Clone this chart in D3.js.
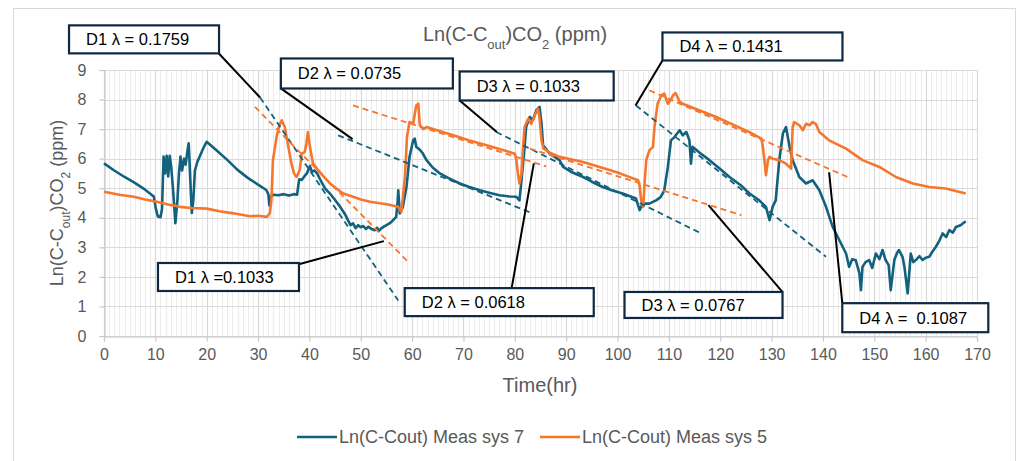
<!DOCTYPE html>
<html><head><meta charset="utf-8">
<script src="https://cdn.jsdelivr.net/npm/d3@7/dist/d3.min.js"></script>
<style>
html,body{margin:0;padding:0;background:#fff;}
svg{display:block;font-family:"Liberation Sans",Arial,sans-serif;}
</style></head>
<body>
<svg id="chart" width="1018" height="461"></svg>
<script>
// ---------- DATA ----------
const xTicks = [0,10,20,30,40,50,60,70,80,90,100,110,120,130,140,150,160,170];
const yTicks = [0,1,2,3,4,5,6,7,8,9];
const seriesNames = ["Ln(C-Cout) Meas sys 7", "Ln(C-Cout) Meas sys 5"];

const sys7Time = [0,2,4,6,8,9.7,10.1,10.5,11,11.3,11.6,11.9,12.2,12.5,12.8,13.1,13.4,13.9,14.3,14.6,14.9,15.2,15.6,15.9,16.2,16.5,16.8,17.1,17.4,17.7,18.2,18.7,19.2,19.7,20,
22,24,26,28,30,31.6,32,32.2,32.5,33,34,35,36,37,37.6,38,38.5,39,39.5,40.1,40.5,41,41.5,42,43,44,45,46,47,47.5,48,48.5,49,49.5,50,50.5,51,51.5,52,52.7,53.2,53.5,54,54.5,55,55.6,56.2,56.9,57.2,57.3,57.6,58.2,58.9,59.5,60.2,60.5,60.8,61.2,61.5,62,62.8,64,65.4,67,69.3,71,73.2,75,77,79,80.3,80.9,81.3,81.9,82.2,82.9,83.5,84.2,84.8,85.2,85.5,86.2,86.8,88.7,89.4,91,93.3,95,97.1,99,101,103.6,104.3,104.9,106.2,107.5,108.4,109.1,109.8,110.4,111.1,111.6,112.1,112.7,113.4,114,114.3,114.6,116,117.9,120,121.8,124,125.7,127.6,128.9,129.6,130.2,130.8,131.5,132.2,132.8,133.5,134.1,135.4,136.7,138,139.3,140.6,141.9,143.2,144.5,145.1,145.7,146.4,147.1,147.4,147.7,148.3,149,149.6,150.3,151,151.6,152.2,152.8,153.2,153.9,154.4,154.8,155.5,155.9,156.5,157.1,157.6,158.1,158.8,159.4,160,160.7,161.3,162,162.6,163.3,164,164.6,165.3,165.9,166.8,167.8];
const sys7Value = [5.84,5.6,5.38,5.18,4.95,4.72,4.3,4.04,4.02,4.3,6.07,5.5,6.1,5.4,6.1,5.7,5.06,3.82,4.6,5.5,6.07,5.6,6.0,5.8,6.2,6.52,5.3,4.16,4.6,5.6,5.9,6.1,6.3,6.48,6.57,
6.27,5.96,5.62,5.35,5.12,4.94,4.8,4.42,4.72,4.78,4.76,4.8,4.75,4.8,4.78,5.3,5.28,5.4,5.5,5.75,5.55,5.6,5.5,5.33,5.0,4.82,4.6,4.37,4.1,3.92,3.75,3.81,3.65,3.75,3.68,3.72,3.62,3.7,3.63,3.58,3.66,3.55,3.64,3.7,3.75,3.81,3.9,4.03,4.6,4.93,4.15,4.37,5.04,6.06,6.62,6.68,6.4,6.35,6.3,6.2,5.95,5.7,5.5,5.35,5.16,5.05,4.93,4.85,4.76,4.72,4.71,4.59,5.27,6.4,7.07,7.41,7.3,7.64,7.75,7.19,6.45,6.3,6.17,5.95,5.72,5.55,5.38,5.22,5.04,4.92,4.82,4.65,4.26,4.48,4.48,4.59,4.7,4.93,5.72,6.62,6.73,6.85,6.96,6.79,6.9,6.62,5.83,6.4,6.2,5.95,5.65,5.38,5.1,4.82,4.59,4.37,3.92,4.37,4.59,5.95,6.85,7.07,6.4,5.95,5.38,5.16,5.27,4.93,4.37,3.69,3.24,2.79,2.34,2.6,2.56,2.12,1.55,2.34,2.5,2.57,2.3,2.79,2.6,2.91,2.57,2.4,1.55,2.57,2.8,2.91,2.68,2.3,1.44,2.79,2.5,2.57,2.7,2.57,2.65,2.68,2.85,3.02,3.2,3.47,3.35,3.58,3.5,3.69,3.75,3.88];

const sys5Time = [0,3,5.8,8,10.3,12.5,14.8,17,20,22.5,25.2,28.4,30,31.7,32.3,32.6,32.9,33.6,34.1,34.6,35.2,35.9,36.5,37,37.5,38.1,38.5,39.1,39.4,39.7,40.1,40.7,41.7,43,44,45.3,46.6,48.5,50,51.8,55,57.3,57.9,58.6,59,59.5,60.2,60.8,61.2,61.5,62.2,62.8,65,68,71,74.5,77,80,80.3,80.6,80.9,81.3,81.6,81.9,82.6,83.2,83.9,84.5,84.8,85.2,85.6,86.8,88.7,93.3,96.5,99.7,102,104,104.3,104.6,105,105.3,105.6,106.2,106.9,107.2,107.8,108.5,109.1,109.8,110.4,110.8,111.3,112.1,112.7,116,119.2,122.5,125.7,128,128.3,128.6,128.9,129.3,129.6,130.2,131.5,132.8,133.5,133.8,134.1,134.4,135.4,136.1,136.7,137.4,138,138.6,139.3,141.2,144.5,147.7,151,154.2,157.5,160.7,163.9,167.8];
const sys5Value = [4.88,4.78,4.71,4.62,4.54,4.45,4.37,4.33,4.31,4.22,4.15,4.05,4.07,4.03,4.15,4.6,5.95,6.73,7.1,7.3,7.07,6.4,5.83,5.5,5.38,5.61,6.17,6.23,6.5,6.9,6.4,5.84,5.61,5.35,5.16,4.98,4.82,4.71,4.62,4.54,4.46,4.37,4.2,5.38,6.73,7.24,7.18,7.8,7.86,7.13,7.0,7.07,6.95,6.79,6.62,6.45,6.33,6.17,5.95,5.5,5.16,5.5,6.4,7.07,7.35,7.18,7.47,7.69,7.41,6.62,6.34,6.2,6.06,5.89,5.72,5.55,5.4,5.27,5.1,4.59,4.37,5.27,5.95,6.28,6.4,7.07,7.86,8.14,8.2,7.86,8.0,8.14,8.22,7.92,7.86,7.63,7.41,7.15,6.9,6.68,6.4,5.95,5.44,5.95,6.06,6.0,5.95,5.83,5.72,5.66,7.07,7.24,7.13,6.96,7.18,7.13,7.24,7.18,6.9,6.62,6.34,5.95,5.72,5.38,5.16,5.04,4.99,4.82];

// dashed decay fits: start/end time and value, series index (0 = sys 7, 1 = sys 5)
const fitSeries   = [0, 1, 0, 1, 0, 1, 0, 1];
const fitStartT   = [30.4, 29.4, 45.6, 48.5, 76.4, 82.9, 103.6, 106.2];
const fitStartV   = [8.07, 7.75, 6.79, 7.8, 6.9, 6.34, 7.8, 8.31];
const fitEndT     = [57.3, 59.5, 83.3, 86.1, 116.3, 124.1, 140.6, 144.8];
const fitEndV     = [1.2, 2.46, 4.16, 5.74, 3.47, 4.09, 2.68, 5.38];

// callout labels
const calloutText = ["D1 λ = 0.1759","D2 λ = 0.0735","D3 λ = 0.1033","D4 λ = 0.1431","D1 λ =0.1033","D2 λ = 0.0618","D3 λ = 0.0767","D4 λ =  0.1087"];
const calloutBoxT = [-6.81, 34.44, 69.26, 108.75, 10.51, 58.56, 101.36, 143.77];
const calloutBoxV = [10.51, 9.39, 8.95, 10.27, 2.47, 1.62, 1.49, 1.11];
const calloutFromT = [22.37, 34.44, 69.26, 108.75, 37.94, 79.38, 132.1, 143.77];
const calloutFromV = [9.56, 8.38, 7.97, 9.32, 2.43, 1.62, 1.49, 1.11];
const calloutToT   = [30.4, 48.4, 76.5, 103.5, 54.5, 83.7, 117.7, 141.2];
const calloutToV   = [8.07, 6.66, 6.9, 7.8, 3.21, 5.84, 4.43, 5.54];

// ---------- LAYOUT / STYLE ----------
const colors = ["#12617f", "#f7762d"];
const boxW = [150,172,154,180,141,189,158,146];
const boxH = [28,30,29,28,28,28,26,29];

const svg = d3.select("#chart");
const x = d3.scaleLinear().domain([0,170]).range([104,977]);
const y = d3.scaleLinear().domain([0,9]).range([336,70]);

// outer chart border
svg.append("rect").attr("x",13.5).attr("y",8.5).attr("width",1002).attr("height",470)
  .attr("fill","#fff").attr("stroke","#d9d9d9").attr("stroke-width",1);

// minor vertical grid
svg.append("g").selectAll("line").data(d3.range(0,171,1)).join("line")
  .attr("x1",d=>Math.round(x(d))+0.5).attr("x2",d=>Math.round(x(d))+0.5)
  .attr("y1",y(9)).attr("y2",y(0)).attr("stroke","#ebebeb").attr("stroke-width",1);
// major grid
svg.append("g").selectAll("line").data(xTicks).join("line")
  .attr("x1",d=>Math.round(x(d))+0.5).attr("x2",d=>Math.round(x(d))+0.5)
  .attr("y1",y(9)).attr("y2",y(0)).attr("stroke","#d9d9d9").attr("stroke-width",1.2);
svg.append("g").selectAll("line").data(yTicks).join("line")
  .attr("x1",x(0)).attr("x2",x(170))
  .attr("y1",d=>Math.round(y(d))+0.5).attr("y2",d=>Math.round(y(d))+0.5)
  .attr("stroke","#d9d9d9").attr("stroke-width",1.2);

// axes
const xAxis = svg.append("g").attr("transform",`translate(0,${Math.round(y(0))+0.5})`)
  .call(d3.axisBottom(x).tickValues(xTicks).tickSize(5).tickPadding(7).tickFormat(d3.format("d")));
const yAxis = svg.append("g").attr("transform",`translate(${Math.round(x(0))+0.5},0)`)
  .call(d3.axisLeft(y).tickValues(yTicks).tickSize(5).tickPadding(13).tickFormat(d3.format("d")));
[xAxis,yAxis].forEach(a=>{
  a.select(".domain").attr("stroke","#c8c8c8").attr("stroke-width",1.2);
  a.selectAll(".tick line").attr("stroke","#c8c8c8").attr("stroke-width",1.2);
  a.selectAll(".tick text").attr("fill","#595959").style("font-size","16px")
   .style("font-family","'Liberation Sans',Arial,sans-serif");
});

// data lines
const line = d3.line().x(d=>x(d[0])).y(d=>y(d[1]));
const sys7 = sys7Time.map((t,i)=>[t,sys7Value[i]]);
const sys5 = sys5Time.map((t,i)=>[t,sys5Value[i]]);
[sys7, sys5].forEach((s,i)=>{
  svg.append("path").datum(s).attr("d",line).attr("fill","none")
    .attr("stroke",colors[i]).attr("stroke-width",2.6).attr("stroke-linejoin","round");
});

// dashed fits
svg.append("g").selectAll("line").data(fitSeries).join("line")
  .attr("x1",(d,i)=>x(fitStartT[i])).attr("y1",(d,i)=>y(fitStartV[i]))
  .attr("x2",(d,i)=>x(fitEndT[i])).attr("y2",(d,i)=>y(fitEndV[i]))
  .attr("stroke",d=>colors[d]).attr("stroke-width",1.8).attr("stroke-dasharray","6,4");

// callouts
const cg = svg.append("g");
calloutText.forEach((txt,i)=>{
  cg.append("line").attr("x1",x(calloutFromT[i])).attr("y1",y(calloutFromV[i]))
    .attr("x2",x(calloutToT[i])).attr("y2",y(calloutToV[i]))
    .attr("stroke","#000").attr("stroke-width",2);
});
calloutText.forEach((txt,i)=>{
  const bx = x(calloutBoxT[i]), by = y(calloutBoxV[i]);
  cg.append("rect").attr("x",bx).attr("y",by).attr("width",boxW[i]).attr("height",boxH[i])
    .attr("fill","#fff").attr("stroke","#0e2841").attr("stroke-width",2.2);
  cg.append("text").attr("x",bx+17).attr("y",by+boxH[i]/2+6)
    .attr("fill","#000").style("font-size","16.5px").style("white-space","pre").text(txt);
});

// title
const title = svg.append("text").attr("x",515).attr("y",41).attr("text-anchor","middle")
  .attr("fill","#595959").style("font-size","20px");
title.append("tspan").text("Ln(C-C");
title.append("tspan").attr("baseline-shift","sub").style("font-size","13px").text("out");
title.append("tspan").text(")CO");
title.append("tspan").attr("baseline-shift","sub").style("font-size","13px").text("2");
title.append("tspan").text(" (ppm)");

// y axis title
const yt = svg.append("text").attr("transform","translate(63,203) rotate(-90)")
  .attr("text-anchor","middle").attr("fill","#595959").style("font-size","18px");
yt.append("tspan").text("Ln(C-C");
yt.append("tspan").attr("baseline-shift","sub").style("font-size","12px").text("out");
yt.append("tspan").text(")CO");
yt.append("tspan").attr("baseline-shift","sub").style("font-size","12px").text("2");
yt.append("tspan").text(" (ppm)");

// x axis title
svg.append("text").attr("x",540).attr("y",392).attr("text-anchor","middle")
  .attr("fill","#595959").style("font-size","20px").text("Time(hr)");

// legend
const legX = [297, 540];
seriesNames.forEach((n,i)=>{
  svg.append("line").attr("x1",legX[i]).attr("x2",legX[i]+40).attr("y1",437).attr("y2",437)
    .attr("stroke",colors[i]).attr("stroke-width",2.6);
  svg.append("text").attr("x",legX[i]+42).attr("y",443).attr("fill","#595959")
    .style("font-size","18px").text(n);
});
</script>
</body></html>
